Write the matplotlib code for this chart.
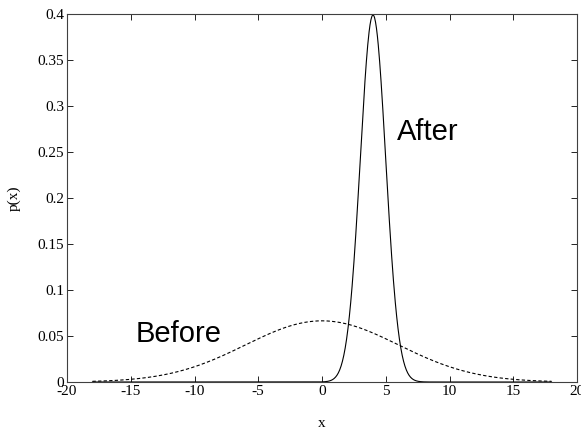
import numpy as np
import matplotlib
matplotlib.use("Agg")
import matplotlib.pyplot as plt

plt.rcParams["axes.unicode_minus"] = False

# Gaussian densities (peak heights / positions)
labels = ["Before", "After"]
means = [0.0, 4.0]
stds = [6.0, 1.0]
styles = ["--", "-"]
x_range = [-18.0, 18.0]

fig = plt.figure(figsize=(5.81, 4.32), dpi=100)
ax = fig.add_axes([67/581, 1-382/432, (577-67)/581, (382-14)/432])

x = np.linspace(x_range[0], x_range[1], 1000)
for m, s, ls in zip(means, stds, styles):
    y = np.exp(-0.5*((x-m)/s)**2)/(np.sqrt(2*np.pi)*s)
    if ls == "--":
        ax.plot(x, y, color="black", lw=0.8, linestyle=(0, (3, 2)))
    else:
        ax.plot(x, y, color="black", lw=0.8)

ax.set_xlim(-20, 20)
ax.set_ylim(0, 0.4)
ax.set_xticks(np.arange(-20, 21, 5))
ax.set_yticks([0, 0.05, 0.1, 0.15, 0.2, 0.25, 0.3, 0.35, 0.4])
ax.set_yticklabels(["0", "0.05", "0.1", "0.15", "0.2", "0.25", "0.3", "0.35", "0.4"])
ax.tick_params(direction="in", top=True, right=True, length=4, width=0.6,
               labelsize=11, pad=2)
for lab in ax.get_xticklabels() + ax.get_yticklabels():
    lab.set_family("Liberation Serif")
for sp in ax.spines.values():
    sp.set_linewidth(0.8)
    sp.set_color("#404040")

ax.set_xlabel("x", family="Liberation Serif", fontsize=11, labelpad=14)
ax.set_ylabel("p(x)", family="Liberation Serif", fontsize=11, labelpad=12)

ax.text(5.9, 0.263, "After", family="Liberation Sans", fontsize=21)
ax.text(-14.6, 0.0435, "Before", family="Liberation Sans", fontsize=21)

fig.savefig("out.png", dpi=100)
